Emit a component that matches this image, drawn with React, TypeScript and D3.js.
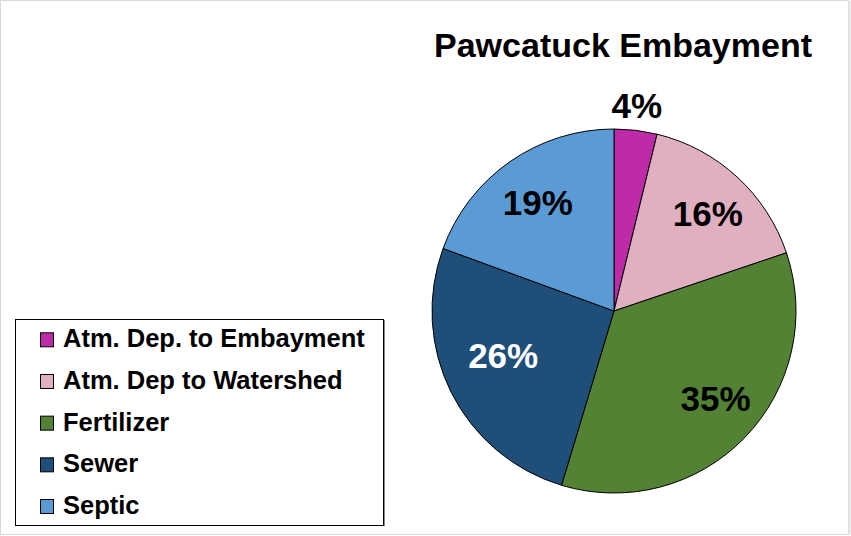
import React from "react";
import * as d3 from "d3";

const title = "Pawcatuck Embayment";
const categories = [
  "Atm. Dep. to Embayment",
  "Atm. Dep to Watershed",
  "Fertilizer",
  "Sewer",
  "Septic",
];
const values = [3.8, 16.0, 34.8, 25.9, 19.4];
const colors = ["#BE2BA8", "#E0AFC0", "#548235", "#1F4E79", "#5B9BD5"];
const labelColors = ["#000", "#000", "#000", "#fff", "#000"];
// small placement nudges for the data labels (style only)
const labelNudge: [number, number][] = [[-2, 0], [4, 0], [6, -5], [8, -15], [0, 0]];

const W = 851;
const H = 536;
const cx = 614;
const cy = 311;
const R = 182;
const FONT = "'Liberation Sans', Arial, sans-serif";

export default function App() {
  const total = d3.sum(values);
  const pie = d3
    .pie<number>()
    .sort(null)
    .value((d) => d);
  const arcs = pie(values);
  const arc = d3.arc<d3.PieArcDatum<number>>().innerRadius(0).outerRadius(R);
  const labelArc = d3
    .arc<d3.PieArcDatum<number>>()
    .innerRadius(R * 0.73)
    .outerRadius(R * 0.73);
  const outerLabelArc = d3
    .arc<d3.PieArcDatum<number>>()
    .innerRadius(R * 1.14)
    .outerRadius(R * 1.14);

  const legendY = d3
    .scalePoint<string>()
    .domain(categories)
    .range([347.3, 514]);

  return (
    <svg
      width={W}
      height={H}
      style={{ position: "absolute", left: 0, top: 0, background: "#fff" }}
    >
      <rect x={0.5} y={0.5} width={848} height={534} fill="#fff" stroke="#d9d9d9" strokeWidth={1} />
      <line x1={849.5} y1={1} x2={849.5} y2={535} stroke="#e6e6e6" strokeWidth={2} />
      <text
        x={623}
        y={57}
        textAnchor="middle"
        fontFamily={FONT}
        fontWeight="bold"
        fontSize={34}
        fill="#000"
      >
        {title}
      </text>
      <g transform={`translate(${cx},${cy})`}>
        {arcs.map((a, i) => (
          <path key={i} d={arc(a) || ""} fill={colors[i]} stroke="#000" strokeWidth={1} />
        ))}
        {arcs.map((a, i) => {
          const pct = Math.round((a.value / total) * 100);
          const small = a.value / total < 0.06;
          const [lx, ly] = small ? outerLabelArc.centroid(a) : labelArc.centroid(a);
          return (
            <text
              key={i}
              x={lx + labelNudge[i][0]}
              y={ly + labelNudge[i][1]}
              dy="0.36em"
              textAnchor="middle"
              fontFamily={FONT}
              fontWeight="bold"
              fontSize={35}
              fill={labelColors[i]}
            >
              {pct}%
            </text>
          );
        })}
      </g>
      <rect x={15.5} y={319.5} width={368} height={206} fill="#fff" stroke="#000" strokeWidth={1} />
      <line x1={384.5} y1={320} x2={384.5} y2={526} stroke="#888" strokeWidth={1} />
      {categories.map((c, i) => {
        const y = legendY(c) as number;
        return (
          <g key={c}>
            <rect x={40.5} y={y - 14.5} width={13} height={14} fill={colors[i]} stroke="#000" strokeWidth={1} />
            <text x={63} y={y} fontFamily={FONT} fontWeight="bold" fontSize={25.5} fill="#000">
              {c}
            </text>
          </g>
        );
      })}
    </svg>
  );
}
